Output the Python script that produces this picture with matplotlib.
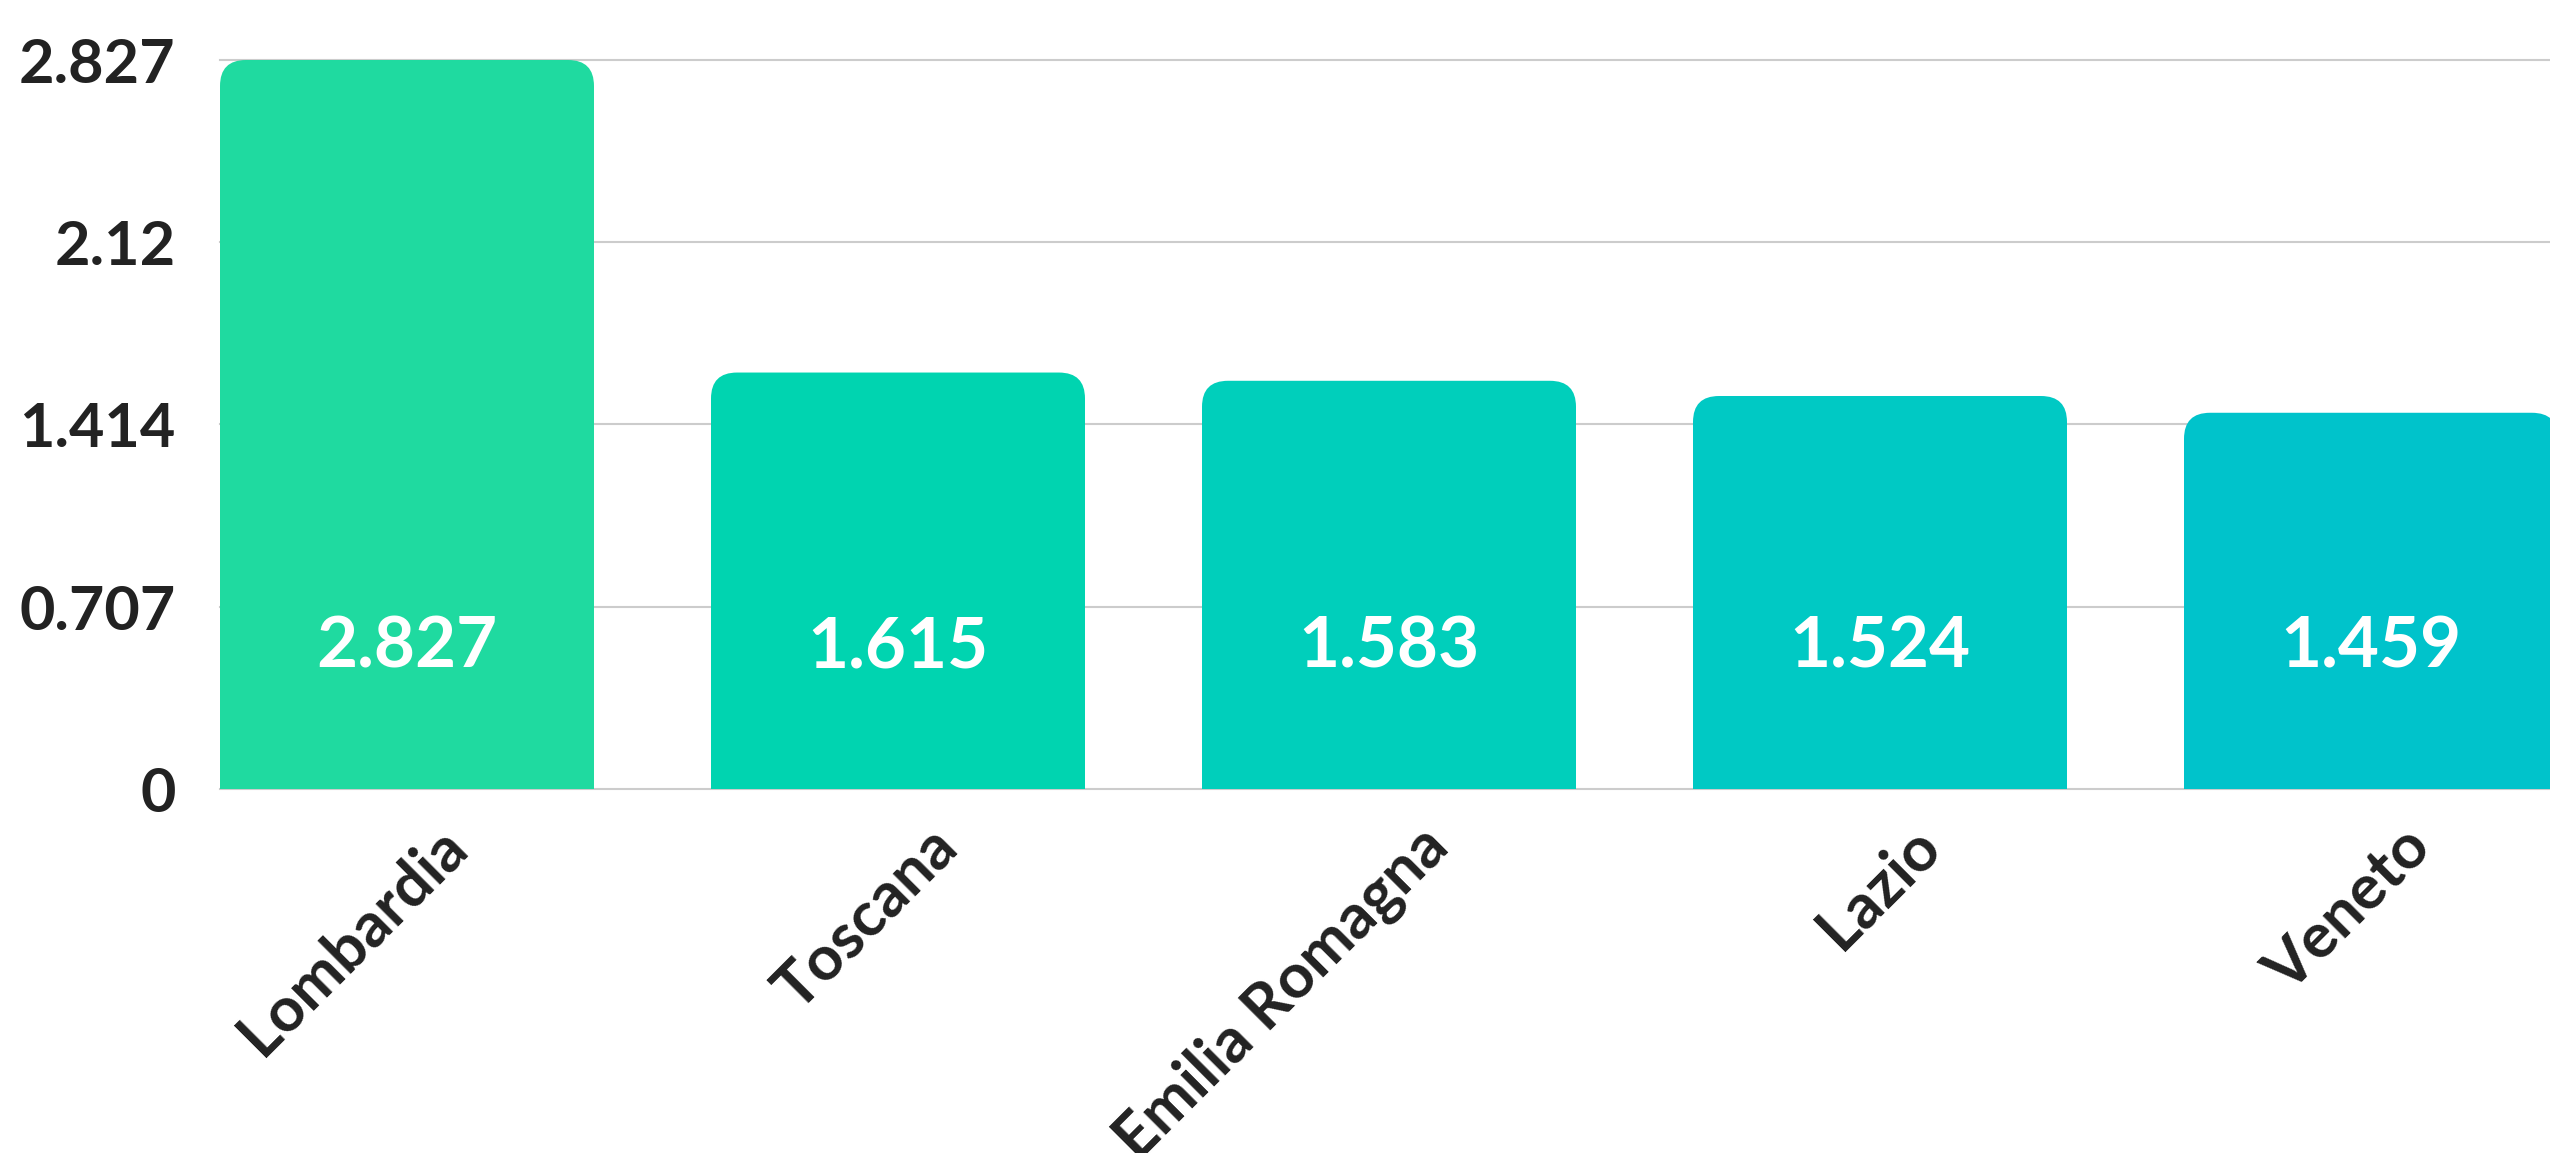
import matplotlib
matplotlib.use("Agg")
import matplotlib.pyplot as plt
from matplotlib.patches import FancyBboxPatch, Rectangle
from matplotlib.transforms import ScaledTranslation

# dati
regions = ["Lombardia", "Toscana", "Emilia Romagna", "Lazio", "Veneto"]
values = [2.827, 1.615, 1.583, 1.524, 1.459]
value_labels = ["2.827", "1.615", "1.583", "1.524", "1.459"]
y_ticks = [0, 0.707, 1.414, 2.12, 2.827]
y_tick_labels = ["0", "0.707", "1.414", "2.12", "2.827"]
colors = ["#1FDAA0", "#00D4B0", "#00CFBB", "#00C9C4", "#00C3CB"]

plt.rcParams["font.family"] = ["Lato", "DejaVu Sans"]

DPI = 100
fig = plt.figure(figsize=(25.5, 11.53), dpi=DPI)
ax = fig.add_axes([220 / 2550, 364 / 1153, 2330 / 2550, 729 / 1153])

bar_w = 374 / 491
ax.set_xlim(-bar_w / 2, -bar_w / 2 + 2330 / 491)
ax.set_ylim(0, 2.827)

# griglia
for t in y_ticks:
    ax.axhline(t, color="#cccccc", lw=1.5, zorder=0, clip_on=False)

# barre con angoli arrotondati in alto
px_x = 1 / 491          # unita x per pixel
px_y = 2.827 / 729      # unita y per pixel
radius_px = 26
bars = ax.bar(range(len(values)), values, width=bar_w, color=colors, zorder=2)
for b, c in zip(bars, colors):
    x0, w, h = b.get_x(), b.get_width(), b.get_height()
    b.set_visible(False)
    rounded = FancyBboxPatch((x0, 0), w, h,
                             boxstyle=f"round,pad=0,rounding_size={radius_px * px_x}",
                             mutation_aspect=px_y / px_x,
                             facecolor=c, edgecolor="none", zorder=2)
    ax.add_patch(rounded)
    ax.add_patch(Rectangle((x0, 0), w, h / 2, facecolor=c, edgecolor="none", zorder=2))

# valori dentro le barre
for i, lab in enumerate(value_labels):
    ax.text(i, 0.47, lab, ha="center", va="baseline", color="white",
            fontsize=51, fontweight="bold", zorder=3)

# etichette asse x
ax.set_xticks([])
offset = ScaledTranslation(50 / DPI, -48 / DPI, fig.dpi_scale_trans)
for i, name in enumerate(regions):
    ax.text(i, 0, name, transform=ax.get_xaxis_transform() + offset,
            rotation=45, rotation_mode="anchor", ha="right", va="center",
            fontsize=45, fontweight="bold", color="#222222", clip_on=False)

ax.set_yticks(y_ticks)
ax.set_yticklabels(y_tick_labels, fontsize=44, fontweight="bold", color="#222222")
ax.tick_params(axis="y", length=0, pad=32)

for s in ax.spines.values():
    s.set_visible(False)

fig.savefig("out.png", dpi=DPI)
